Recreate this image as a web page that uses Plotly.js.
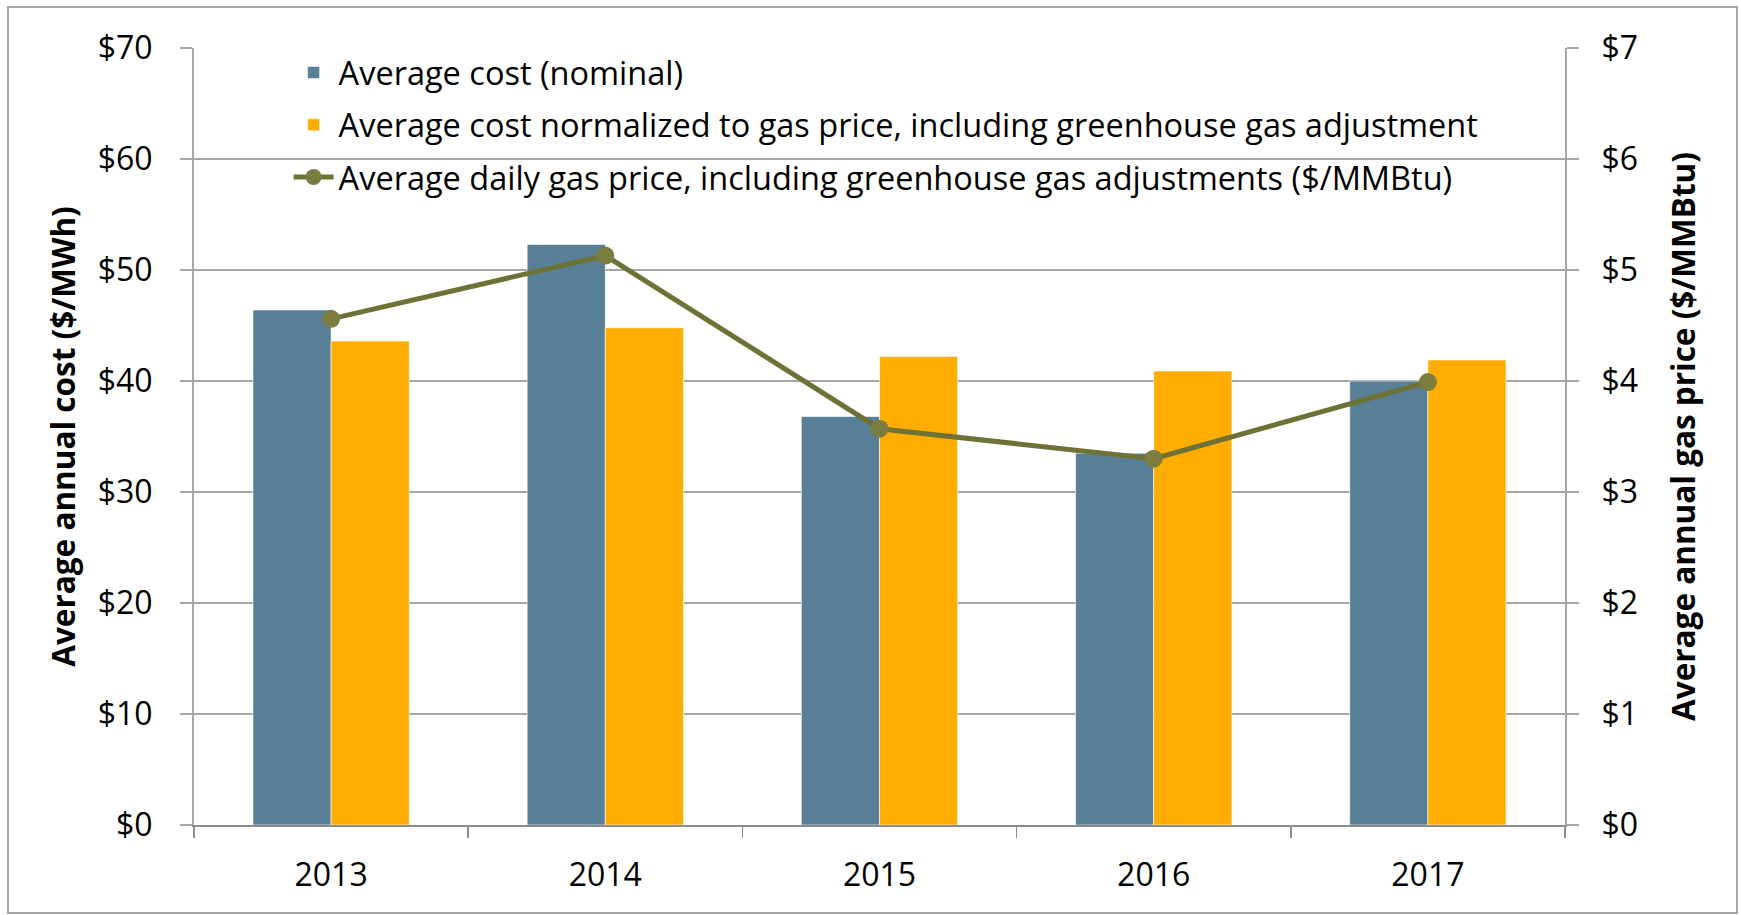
<!DOCTYPE html>
<html>
<head>
<meta charset="utf-8">
<script src="https://cdn.plot.ly/plotly-3.0.1.min.js"></script>
<style>
  html, body { margin: 0; padding: 0; background: #fff; }
  #wrap { position: relative; width: 1741px; height: 915px; }
  #chart { width: 1741px; height: 915px; }
  #frame { position: absolute; left: 7px; top: 6px; width: 1727px; height: 904px;
           border: 2px solid #a6a6a6; pointer-events: none; }
</style>
</head>
<body>
<div id="wrap"><div id="chart"></div><div id="frame"></div></div>
<script>
const years = ['2013', '2014', '2015', '2016', '2017'];
const avgCostNominal = [46.4, 52.3, 36.8, 33.5, 40.0];
const avgCostNormalized = [43.6, 44.8, 42.2, 40.9, 41.9];
const gasPrice = [4.56, 5.13, 3.57, 3.30, 3.99];

const seriesNames = [
  'Average cost (nominal)',
  'Average cost normalized to gas price, including greenhouse gas adjustment',
  'Average daily gas price, including greenhouse gas adjustments ($/MMBtu)'
];
const leftTicks = [0, 10, 20, 30, 40, 50, 60, 70];
const rightTicks = [0, 1, 2, 3, 4, 5, 6, 7];

const FONT = 'Open Sans, sans-serif';

const traces = [
  {
    type: 'bar', x: years, y: avgCostNominal, name: seriesNames[0],
    marker: { color: '#577f96', line: { color: 'rgba(255,255,255,0.6)', width: 1 } },
    legendgroup: 'a', hoverinfo: 'skip'
  },
  {
    type: 'bar', x: years, y: avgCostNormalized, name: seriesNames[1],
    marker: { color: '#ffad00', line: { color: 'rgba(255,255,255,0.6)', width: 1 } },
    legendgroup: 'b', hoverinfo: 'skip'
  },
  {
    type: 'scatter', mode: 'lines+markers', x: years, y: gasPrice, yaxis: 'y2',
    name: seriesNames[2],
    line: { color: '#6f7236', width: 5 },
    marker: { color: '#7a7c40', size: 18 },
    legendgroup: 'c', hoverinfo: 'skip'
  }
];

const layout = {
  width: 1741, height: 915,
  paper_bgcolor: '#ffffff', plot_bgcolor: '#ffffff',
  margin: { l: 194, r: 175.5, t: 48, b: 90, pad: 0 },
  font: { family: FONT, color: '#000000', size: 32 },
  barmode: 'group', bargap: 0.43, bargroupgap: 0,
  showlegend: true,
  legend: {
    x: 0.069, y: 1.004, xanchor: 'left', yanchor: 'top',
    bgcolor: 'rgba(0,0,0,0)', borderwidth: 0,
    font: { family: FONT, size: 32.5, color: '#000' },
    traceorder: 'grouped', tracegroupgap: 7, itemwidth: 40
  },
  xaxis: {
    type: 'category', tickson: 'boundaries', ticks: 'outside', ticklen: 11,
    tickwidth: 1.5, tickcolor: '#8c8c8c',
    showline: true, linecolor: '#8c8c8c', linewidth: 2,
    showgrid: false, zeroline: false,
    tickfont: { family: FONT, size: 32 }, ticklabelstandoff: 21
  },
  yaxis: {
    range: [0, 70], tickvals: leftTicks, ticktext: leftTicks.map(v => '$' + v),
    ticks: 'outside', ticklen: 12, tickwidth: 1.5, tickcolor: '#a6a6a6',
    showline: true, linecolor: '#a6a6a6', linewidth: 2,
    showgrid: true, gridcolor: '#a6a6a6', gridwidth: 1.5, zeroline: false,
    tickfont: { family: FONT, size: 32 }, ticklabelstandoff: 21,
    title: { text: 'Average annual cost ($/MWh)', font: { family: FONT, size: 31.5, weight: 'bold' }, standoff: 13 }
  },
  yaxis2: {
    overlaying: 'y', side: 'right', range: [0, 7],
    tickvals: rightTicks, ticktext: rightTicks.map(v => '$' + v),
    ticks: 'outside', ticklen: 12, tickwidth: 1.5, tickcolor: '#a6a6a6',
    showline: true, linecolor: '#a6a6a6', linewidth: 2,
    showgrid: false, zeroline: false,
    tickfont: { family: FONT, size: 32 }, ticklabelstandoff: 16,
    title: { text: 'Average annual gas price ($/MMBtu)', font: { family: FONT, size: 31.5, weight: 'bold' }, standoff: 36 }
  }
};

Plotly.newPlot('chart', traces, layout, { displayModeBar: false, staticPlot: true });
</script>
</body>
</html>
